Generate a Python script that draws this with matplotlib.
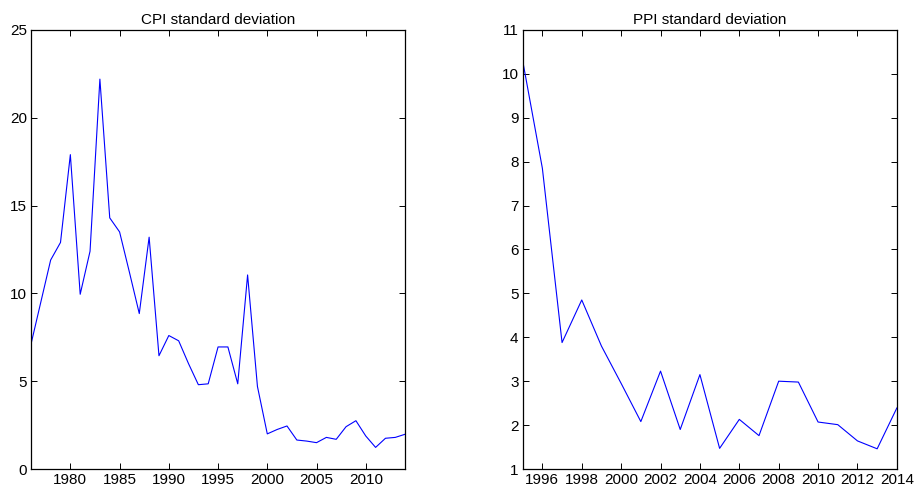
import matplotlib
matplotlib.use("Agg")
import matplotlib.pyplot as plt
import numpy as np

plt.rcParams["font.family"] = ["Liberation Sans", "DejaVu Sans"]
plt.rcParams["font.size"] = 11

# CPI standard deviation, 1976-2014
cpi_years = np.arange(1976, 2015)
cpi_std = [
    7.1, 9.5, 11.9, 12.9, 17.9, 9.95, 12.4, 22.2, 14.3, 13.5,
    11.2, 8.85, 13.2, 6.45, 7.6, 7.3, 6.0, 4.8, 4.85, 6.95,
    6.95, 4.85, 11.05, 4.7, 2.0, 2.25, 2.45, 1.65, 1.59, 1.5,
    1.8, 1.69, 2.41, 2.75, 1.88, 1.23, 1.75, 1.8, 1.98,
]

# PPI standard deviation, 1995-2014
ppi_years = np.arange(1995, 2015)
ppi_std = [
    10.3, 7.85, 3.88, 4.85, 3.8, 2.95, 2.08, 3.23, 1.9, 3.15,
    1.47, 2.13, 1.76, 3.0, 2.98, 2.07, 2.01, 1.64, 1.46, 2.39,
]

fig = plt.figure(figsize=(9.16, 4.91), dpi=100)
ax1 = fig.add_axes([0.0338, 0.0448, 0.4085, 0.8942])
ax2 = fig.add_axes([0.5706, 0.0448, 0.4085, 0.8942])


def style(ax):
    ax.tick_params(direction="in", top=True, right=True, length=4.5,
                   width=0.7, labelsize=11, pad=3)
    for s in ax.spines.values():
        s.set_linewidth(0.9)


ax1.plot(cpi_years, cpi_std, color="blue", lw=0.8)
ax1.set_xlim(1976, 2014)
ax1.set_ylim(0, 25)
ax1.set_xticks(np.arange(1980, 2011, 5))
ax1.set_yticks(np.arange(0, 26, 5))
ax1.set_title("CPI standard deviation", fontsize=11, pad=4)
style(ax1)

ax2.plot(ppi_years, ppi_std, color="blue", lw=0.8)
ax2.set_xlim(1995, 2014)
ax2.set_ylim(1, 11)
ax2.set_xticks(np.arange(1996, 2015, 2))
ax2.set_yticks(np.arange(1, 12, 1))
ax2.set_title("PPI standard deviation", fontsize=11, pad=4)
style(ax2)

fig.savefig("out.png", dpi=100)
